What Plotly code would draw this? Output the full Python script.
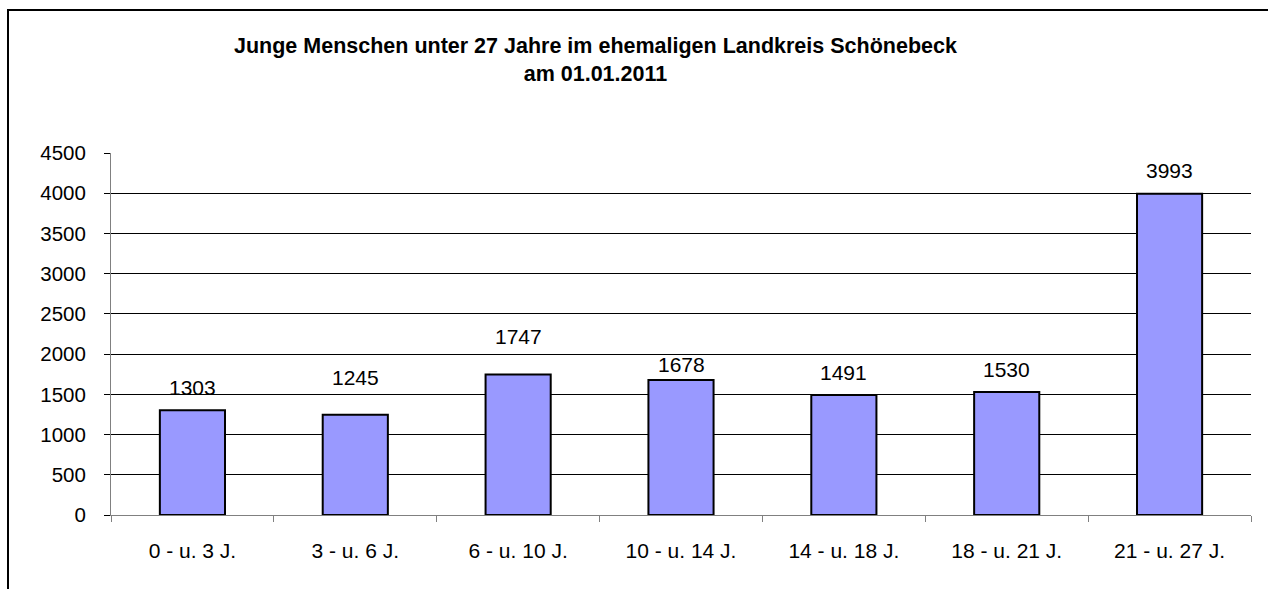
import plotly.graph_objects as go

categories = ["0 - u. 3 J.", "3 - u. 6 J.", "6 - u. 10 J.", "10 - u. 14 J.",
              "14 - u. 18 J.", "18 - u. 21 J.", "21 - u. 27 J."]
values = [1303, 1245, 1747, 1678, 1491, 1530, 3993]
y_ticks = [0, 500, 1000, 1500, 2000, 2500, 3000, 3500, 4000, 4500]
title_lines = ["Junge Menschen unter 27 Jahre im ehemaligen Landkreis Schönebeck", "am 01.01.2011"]
# pixel offsets of the value labels above the bars (as placed in the original)
label_shift = [9, 24, 24, 2, 9, 9, 10]

FONT = "Arial, 'Liberation Sans', sans-serif"
W, H = 1268, 589
L, R, T, B = 111, 17, 153, 74
pw, ph = W - L - R, H - T - B

fig = go.Figure()
fig.add_trace(go.Bar(
    x=categories, y=values,
    marker=dict(color="#9999FF", line=dict(color="black", width=2)),
    width=0.4,
))

for c, v, s in zip(categories, values, label_shift):
    fig.add_annotation(x=c, y=v, text=str(v), showarrow=False,
                       yanchor="bottom", yshift=s,
                       font=dict(family=FONT, size=21, color="black"))

def px_x(p):
    return (p - L) / pw

def px_y(p):
    return (H - B - p) / ph

fig.add_annotation(xref="paper", yref="paper", x=px_x(595), y=px_y(60),
                   text="<b>" + "<br>".join(title_lines) + "</b>",
                   showarrow=False, xanchor="center", yanchor="middle",
                   align="center",
                   font=dict(family=FONT, size=21.5, color="black"))

# outer chart border (left and top visible)
fig.add_shape(type="rect", xref="paper", yref="paper",
              x0=px_x(8), x1=px_x(1300), y0=px_y(620), y1=px_y(10),
              line=dict(color="black", width=2), fillcolor="rgba(0,0,0,0)",
              layer="above")

fig.update_layout(
    width=W, height=H,
    margin=dict(l=L, r=R, t=T, b=B, pad=0),
    paper_bgcolor="white", plot_bgcolor="white",
    showlegend=False,
    font=dict(family=FONT, size=21, color="black"),
    xaxis=dict(
        type="category",
        showline=True, linecolor="#808080", linewidth=1,
        ticks="outside", tickson="boundaries", ticklen=6, tickcolor="#808080",
        showgrid=False, ticklabelstandoff=17,
        tickfont=dict(family=FONT, size=21, color="black"),
    ),
    yaxis=dict(
        range=[0, 4500], tickvals=y_ticks,
        showline=True, linecolor="#808080", linewidth=1,
        ticks="outside", ticklen=6, tickcolor="black",
        showgrid=True, gridcolor="black", gridwidth=1,
        zeroline=False, ticklabelstandoff=14,
        tickfont=dict(family=FONT, size=20.5, color="black"),
    ),
)

fig.write_html("out.html", config={"displayModeBar": False},
               post_script="document.body.style.margin='0';")
